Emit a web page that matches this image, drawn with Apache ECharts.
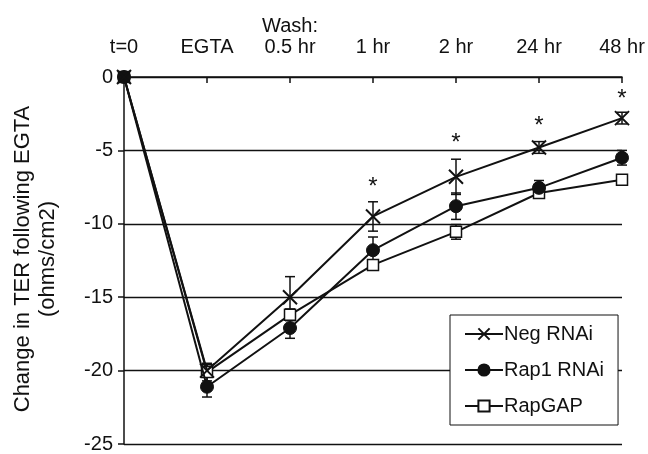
<!DOCTYPE html>
<html>
<head>
<meta charset="utf-8">
<script src="https://cdn.jsdelivr.net/npm/echarts@6/dist/echarts.min.js"></script>
<style>html,body{margin:0;padding:0;background:#fff}#c{width:648px;height:454px}</style>
</head>
<body>
<div id="c"></div>
<script>
var categories = ['t=0', 'EGTA', '0.5 hr', '1 hr', '2 hr', '24 hr', '48 hr'];
var tickLabels = ['t=0', 'EGTA', 'Wash:\n0.5 hr', '1 hr', '2 hr', '24 hr', '48 hr'];
var negRNAi = [0, -20.0, -15.0, -9.5, -6.8, -4.8, -2.8];
var negRNAiErr = [0, 0.4, 1.4, 1.0, 1.2, 0.4, 0.4];
var rap1RNAi = [0, -21.1, -17.1, -11.8, -8.8, -7.55, -5.5];
var rap1RNAiErr = [0, 0.7, 0.7, 0.9, 0.9, 0.5, 0.5];
var rapGAP = [0, -20.1, -16.2, -12.8, -10.55, -7.9, -7.0];
var rapGAPErr = [0, 0.6, 0.4, 0.3, 0.5, 0.3, 0];
var sigCategories = ['1 hr', '2 hr', '24 hr', '48 hr'];
var sigY = [-7.5, -4.5, -3.35, -1.5];

var FONT = '"Liberation Sans", Arial, sans-serif';

function errSeries(name, vals, errs) {
  return {
    type: 'custom',
    name: name + ' err',
    silent: true,
    z: 1,
    data: vals.map(function (v, i) { return [i, v - errs[i], v + errs[i], errs[i]]; }),
    renderItem: function (params, api) {
      if (api.value(3) <= 0) return null;
      var x = api.value(0);
      var lo = api.coord([x, api.value(1)]);
      var hi = api.coord([x, api.value(2)]);
      var w = 5;
      var st = { stroke: '#111', lineWidth: 1.5 };
      return {
        type: 'group',
        children: [
          { type: 'line', shape: { x1: lo[0], y1: lo[1], x2: hi[0], y2: hi[1] }, style: st },
          { type: 'line', shape: { x1: lo[0] - w, y1: lo[1], x2: lo[0] + w, y2: lo[1] }, style: st },
          { type: 'line', shape: { x1: hi[0] - w, y1: hi[1], x2: hi[0] + w, y2: hi[1] }, style: st }
        ]
      };
    }
  };
}

var chart = echarts.init(document.getElementById('c'));
chart.setOption({
  animation: false,
  backgroundColor: '#fff',
  textStyle: { fontFamily: FONT },
  grid: { left: 124, right: 26, top: 77, bottom: 10 },
  xAxis: {
    type: 'category', data: categories, position: 'top',
    boundaryGap: false,
    axisLine: { lineStyle: { color: '#111', width: 1.5 } },
    axisTick: { inside: true, length: 6, lineStyle: { color: '#111', width: 1.5 } },
    axisLabel: {
      show: true, color: '#111', fontSize: 20, fontFamily: FONT, margin: 19, lineHeight: 21, interval: 0,
      formatter: function (v, i) { return tickLabels[i]; }
    },
    splitLine: { show: false }
  },
  yAxis: {
    type: 'value', min: -25, max: 0, interval: 5,
    axisLine: { show: true, onZero: false, lineStyle: { color: '#111', width: 1.5 } },
    axisTick: { show: true, length: 6, lineStyle: { color: '#111', width: 1.5 } },
    axisLabel: { color: '#111', fontSize: 20, fontFamily: FONT, margin: 11 },
    splitLine: { show: true, lineStyle: { color: '#111', width: 1.3 } }
  },
  legend: {
    data: ['Neg RNAi', 'Rap1 RNAi', 'RapGAP'],
    orient: 'vertical',
    left: 450, top: 315,
    padding: [9, 14, 9, 14],
    itemGap: 16,
    itemWidth: 38, itemHeight: 14,
    backgroundColor: '#fff',
    borderColor: '#111', borderWidth: 1,
    textStyle: { color: '#111', fontSize: 20, fontFamily: FONT, padding: [0, 0, 0, -4] }
  },
  graphic: [
    {
      type: 'text', x: 35, y: 259, rotation: Math.PI / 2, z: 10,
      style: {
        text: 'Change in TER following EGTA\n(ohms/cm2)',
        font: '22px ' + FONT, fill: '#111', align: 'center', verticalAlign: 'middle', lineHeight: 25
      }
    }
  ],
  series: [
    errSeries('RapGAP', rapGAP, rapGAPErr),
    errSeries('Rap1 RNAi', rap1RNAi, rap1RNAiErr),
    errSeries('Neg RNAi', negRNAi, negRNAiErr),
    {
      name: 'RapGAP', type: 'line', data: rapGAP, z: 2,
      symbol: 'rect', symbolSize: 11, showAllSymbol: true,
      lineStyle: { color: '#111', width: 2 },
      itemStyle: { color: '#fff', borderColor: '#111', borderWidth: 1.5 }
    },
    {
      name: 'Rap1 RNAi', type: 'line', data: rap1RNAi, z: 3,
      symbol: 'circle', symbolSize: 13, showAllSymbol: true,
      lineStyle: { color: '#111', width: 2 },
      itemStyle: { color: '#111', borderColor: '#111', borderWidth: 1 }
    },
    {
      name: 'Neg RNAi', type: 'line', data: negRNAi, z: 4,
      symbol: 'path://M0,0L10,10M10,0L0,10', symbolSize: 14, showAllSymbol: true,
      lineStyle: { color: '#111', width: 2 },
      itemStyle: { color: 'none', borderColor: '#111', borderWidth: 2 }
    },
    {
      type: 'custom', name: 'sig', silent: true, z: 5,
      data: sigCategories.map(function (c, i) { return [categories.indexOf(c), sigY[i]]; }),
      renderItem: function (params, api) {
        var p = api.coord([api.value(0), api.value(1)]);
        return { type: 'text', x: p[0], y: p[1], style: { text: '*', font: '24px ' + FONT, fill: '#111', align: 'center', verticalAlign: 'middle' } };
      }
    }
  ]
});
</script>
</body>
</html>
